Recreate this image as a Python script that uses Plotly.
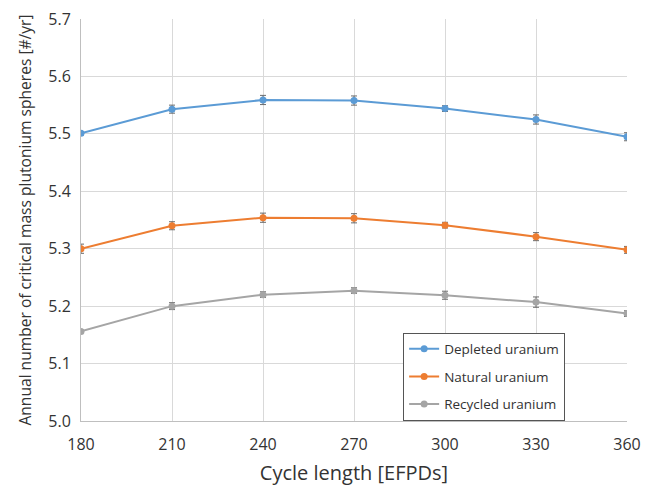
import plotly.graph_objects as go

# Cycle length in effective full-power days
cycle_length = [180, 210, 240, 270, 300, 330, 360]

# Annual number of critical-mass plutonium spheres and their uncertainties
depleted = [5.501, 5.543, 5.559, 5.558, 5.544, 5.525, 5.495]
depleted_err = [0.003, 0.007, 0.008, 0.008, 0.005, 0.008, 0.007]
natural = [5.300, 5.340, 5.354, 5.353, 5.341, 5.321, 5.298]
natural_err = [0.008, 0.007, 0.008, 0.008, 0.005, 0.007, 0.006]
recycled = [5.156, 5.200, 5.220, 5.227, 5.219, 5.207, 5.187]
recycled_err = [0.002, 0.006, 0.005, 0.005, 0.007, 0.009, 0.005]

series = [
    ("Depleted uranium", depleted, depleted_err, "#5B9BD5"),
    ("Natural uranium", natural, natural_err, "#ED7D31"),
    ("Recycled uranium", recycled, recycled_err, "#A5A5A5"),
]

fig = go.Figure()
for name, vals, errs, color in series:
    fig.add_trace(go.Scatter(
        x=cycle_length, y=vals, name=name, legendgroup=name,
        mode="lines+markers",
        line=dict(color=color, width=2),
        marker=dict(color=color, size=7),
        error_y=dict(type="data", array=errs, visible=True,
                     color="#6b6b6b", thickness=1, width=3),
    ))

font_family = "Open Sans, Noto Sans, sans-serif"
fig.update_layout(
    width=647, height=490,
    margin=dict(l=81, r=20, t=19, b=69),
    paper_bgcolor="white", plot_bgcolor="white",
    font=dict(family=font_family, color="#333333"),
    showlegend=True,
    legend=dict(
        x=0.59, y=0.22, xanchor="left", yanchor="top",
        bordercolor="#555555", borderwidth=1, bgcolor="white",
        font=dict(size=13.5, color="#333333"),
        traceorder="grouped", tracegroupgap=7,
    ),
    xaxis=dict(
        range=[180, 360], tickvals=cycle_length, automargin=False,
        showgrid=True, gridcolor="#d9d9d9", gridwidth=1,
        showline=True, linecolor="#bfbfbf", linewidth=1,
        zeroline=False, ticks="", tickfont=dict(size=16),
        ticklabelstandoff=9,
        title=dict(text="Cycle length [EFPDs]", font=dict(size=20), standoff=11),
    ),
    yaxis=dict(
        range=[5.0, 5.7], dtick=0.1, tickformat=".1f", automargin=False,
        showgrid=True, gridcolor="#d9d9d9", gridwidth=1,
        showline=True, linecolor="#bfbfbf", linewidth=1,
        zeroline=False, ticks="", tickfont=dict(size=16),
        ticklabelstandoff=6,
        title=dict(text="Annual number of critical mass plutonium spheres [#/yr]",
                   font=dict(size=15.6), standoff=12),
    ),
)

fig.write_html("out.html")
